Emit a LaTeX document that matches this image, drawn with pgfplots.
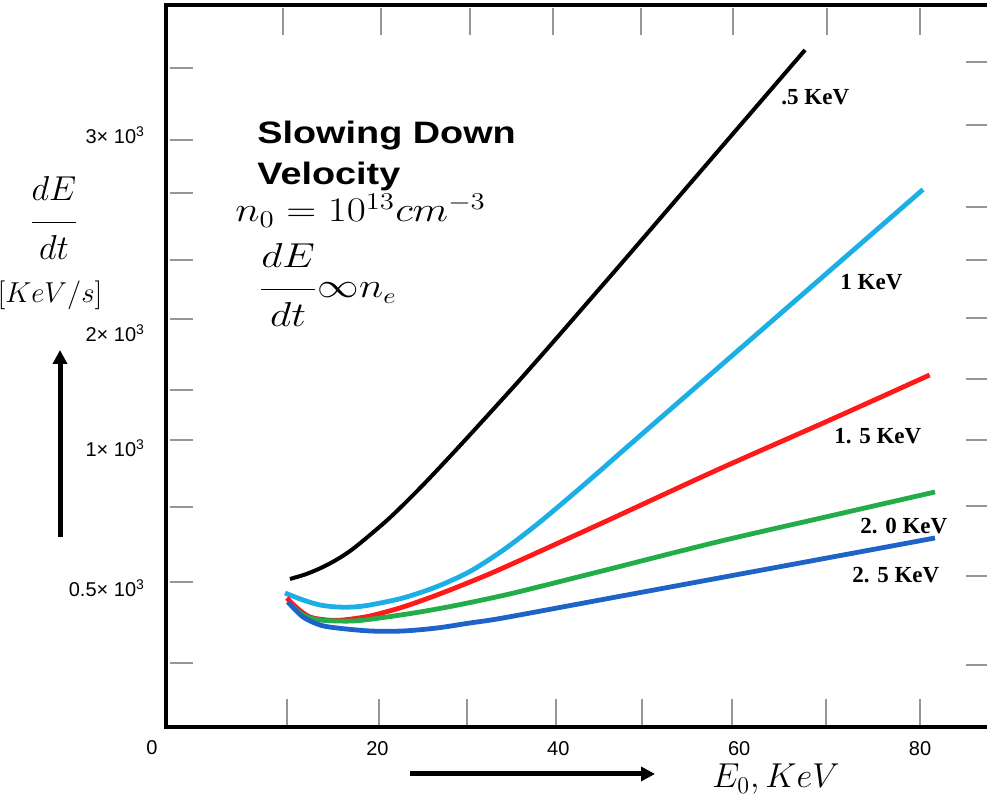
\documentclass[border=0pt]{standalone}
\usepackage{fontspec}
\setmainfont{Liberation Sans}
\newfontfamily\titlefont{Liberation Sans}
\newfontfamily\lblfont{Liberation Serif}
\usepackage{graphicx}
\usepackage{pgfplots}
\pgfplotsset{compat=1.18}
\usetikzlibrary{arrows.meta}
\definecolor{cCyan}{RGB}{27,175,230}
\definecolor{cRed}{RGB}{255,25,25}
\definecolor{cGreen}{RGB}{34,172,74}
\definecolor{cBlue}{RGB}{30,100,200}
\definecolor{tickgray}{RGB}{150,150,150}

\pgfplotstableread{
x y
10.33 148
12.15 153
13.98 160
15.80 169
17.63 180.5
21.28 208.5
24.93 241
28.58 276
32.23 312
35.88 348.5
39.53 386
43.18 424
46.83 462
55.67 555
67.28 677
}\halfkev
\pgfplotstableread{
x y
9.78 134
11.77 127
13.65 122
15.53 120
17.30 120
19.18 122
22.82 129
26.47 140
30.12 155
33.77 176
37.42 201
41.07 228.5
44.72 257
48.37 286
64.51 413
80.32 537.5
}\onekev
\pgfplotstableread{
x y
9.99 129
11.10 119
12.54 110
14.42 107
16.19 107
19.18 111
22.82 120
26.58 132
30.23 145
33.88 159
44.61 203
57.55 257
70.04 307
81.06 352
}\onefivekev
\pgfplotstableread{
x y
10.10 125
11.77 112
13.65 107
17.30 106
21.04 110
24.70 115
28.35 121
32.11 128
35.76 135.5
44.61 155.5
57.55 185
70.04 211
81.65 235
}\twokev
\pgfplotstableread{
x y
10.10 125
11.77 110
13.65 102
15.53 99
19.18 96
22.82 96
26.58 99
30.23 104
33.88 109
44.61 127
55.67 145.5
66.73 164
81.65 189
}\twofivekev

\begin{document}
\begin{tikzpicture}
\path[use as bounding box] (0,0) rectangle (493.5pt,403pt);
\begin{axis}[
  at={(83pt,39.5pt)}, anchor=south west,
  scale only axis, width=410.5pt, height=361pt,
  xmin=-3.38, xmax=87.4, ymin=0, ymax=722,
  axis line style={draw=none},
  clip=false,
  major tick length=0pt,
  xtick={20,40,60,80},
  xticklabels={{\raisebox{-3.5pt}{20}},40,60,80},
  ytick={139,279,394,592},
  yticklabels={{\mbox{0.5× 10\textsuperscript{3}}},{\mbox{1× 10\textsuperscript{3}}},{\mbox{2× 10\textsuperscript{3}}},{\mbox{3× 10\textsuperscript{3}}}},
  xticklabel style={font=\fontsize{10}{12}\selectfont, yshift=-3.7pt},
  yticklabel style={font=\fontsize{10}{12}\selectfont, xshift=-7pt},
  ytick pos=left, xtick pos=bottom,
]
\addplot[black, line width=2pt, smooth] table {\halfkev};
\addplot[cCyan, line width=2.4pt, smooth] table {\onekev};
\addplot[cRed, line width=2.4pt, smooth] table {\onefivekev};
\addplot[cGreen, line width=2.4pt, smooth] table {\twokev};
\addplot[cBlue, line width=2.4pt, smooth] table {\twofivekev};
\draw[line width=1.6pt, line join=miter] (rel axis cs:1.01,1) -- (rel axis cs:0,1) -- (rel axis cs:0,0) -- (rel axis cs:1.01,0);
\end{axis}

\begin{scope}[x=0.5pt,y=-0.5pt,yshift=403pt]
  % tick marks
  \foreach \yy in {68,140,193,260,319,390,440,507,582,663}
    \draw[tickgray, line width=0.7pt] (170,\yy) -- (193,\yy);
  \foreach \yy in {62,125,207,260,318,379,440,506,576,665}
    \draw[tickgray, line width=0.7pt] (966,\yy) -- (990,\yy);
  \foreach \xx in {283,381,470,553,641,733,827,920}
    \draw[tickgray, line width=0.7pt] (\xx,8) -- (\xx,35);
  \foreach \xx in {287,379,467,556,642,732,826,920}
    \draw[tickgray, line width=0.7pt] (\xx,699) -- (\xx,725);

  % origin label
  \node[font=\fontsize{10}{12}\selectfont] at (152,748) {0};

  % inset text
  \node[anchor=base west, inner sep=0, font=\titlefont\bfseries\fontsize{15.5}{18}\selectfont] at (257,144) {\scalebox{1.22}[1]{Slowing Down}};
  \node[anchor=base west, inner sep=0, font=\titlefont\bfseries\fontsize{15.5}{18}\selectfont] at (257,185) {\scalebox{1.22}[1]{Velocity}};
  \node[anchor=base west, inner sep=0] at (235,222) {\scalebox{1.2}[1]{\fontsize{16.5}{20}\selectfont $n_0 = 10^{13} cm^{-3}$}};
  \node[anchor=base west, inner sep=0] at (258,298) {\scalebox{1.2}[1]{\fontsize{16}{19}\selectfont $\displaystyle\frac{\raisebox{3.5pt}{$dE$}}{\raisebox{-2.5pt}{$dt$}}\infty n_e$}};

  % y axis label
  \node[anchor=base, inner sep=0] at (54,231) {\fontsize{17}{20}\selectfont $\displaystyle\frac{\raisebox{3.5pt}{$dE$}}{\raisebox{-2.5pt}{$dt$}}$};
  \node[inner sep=0] at (50,295) {\fontsize{14}{17}\selectfont $[KeV/s]$};
  \draw[line width=2.5pt, -{Triangle[width=7pt,length=7pt]}] (60,537) -- (60,350);

  % x axis label
  \draw[line width=2.5pt, -{Triangle[width=7pt,length=7pt]}] (410,774) -- (655,774);
  \node[anchor=base, inner sep=0] at (776,788) {\fontsize{18}{22}\selectfont $E_0, KeV$};

  % curve labels
  \begin{scope}[every node/.style={anchor=west, inner sep=0, font=\lblfont\bfseries\fontsize{11.5}{14}\selectfont}]
    \node at (781,97) {.5 KeV};
    \node at (840,282) {1 KeV};
    \node at (834,436) {1. 5 KeV};
    \node at (860,526) {2. 0 KeV};
    \node at (852,575) {2. 5 KeV};
  \end{scope}
\end{scope}
\end{tikzpicture}
\end{document}
